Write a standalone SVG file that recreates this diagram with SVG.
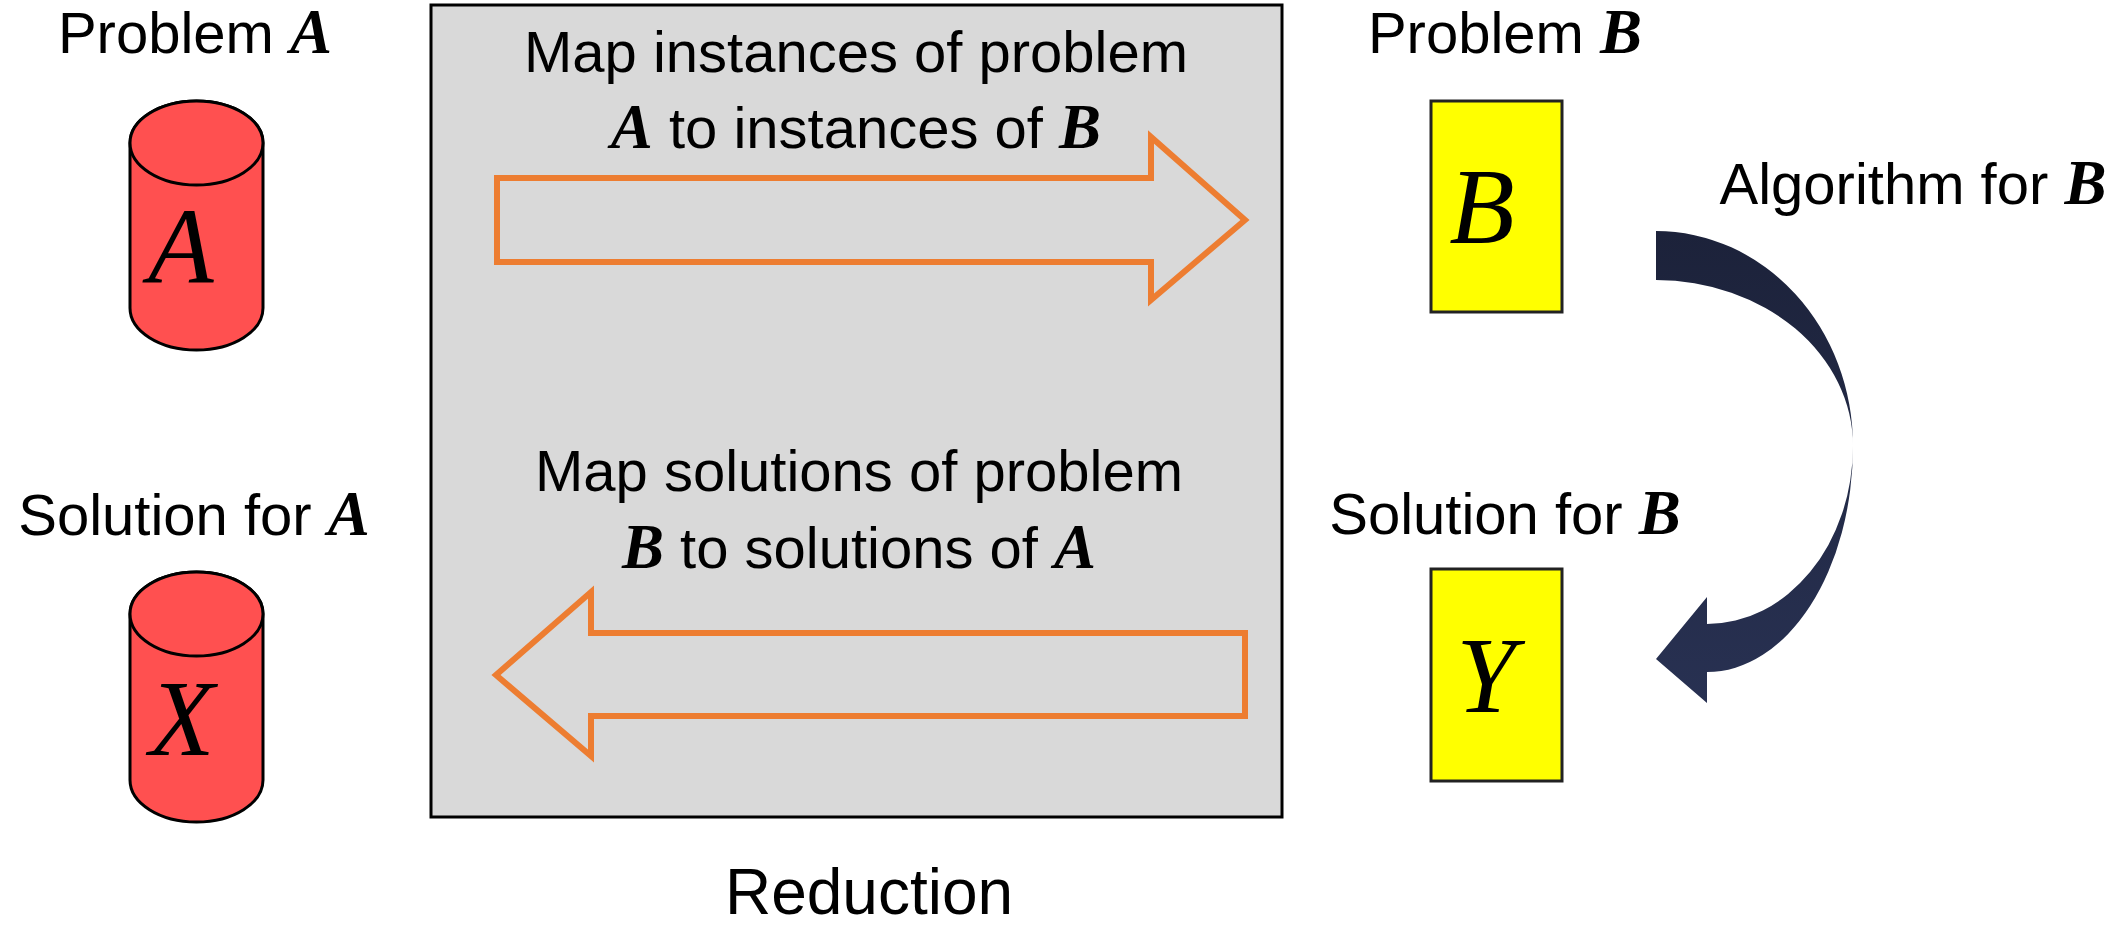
<svg xmlns="http://www.w3.org/2000/svg" width="2121" height="929" viewBox="0 0 2121 929">
<style>
.lbl{font-family:"Liberation Sans",Arial,sans-serif;font-size:58px;fill:#000;text-anchor:middle}
.m{font-family:"Liberation Serif","Times New Roman",serif;font-style:italic;font-weight:bold;font-size:63px}
.big{font-family:"Liberation Serif","Times New Roman",serif;font-style:italic;font-size:107px;fill:#000;text-anchor:middle}
.cyl{fill:#FF5050;stroke:#000;stroke-width:3}
.rect{fill:#FFFF00;stroke:#222;stroke-width:3}
.blk{fill:none;stroke:#ED7D31;stroke-width:6;stroke-linejoin:miter}
</style>
<defs>
<linearGradient id="navy" x1="0" y1="0" x2="0" y2="1">
<stop offset="0" stop-color="#1C223A"/>
<stop offset="1" stop-color="#283152"/>
</linearGradient>
</defs>
<rect width="2121" height="929" fill="#fff"/>

<g id="reduction">
<rect x="431" y="5" width="851" height="812" fill="#D9D9D9" stroke="#000" stroke-width="3"/>
<text class="lbl" x="856" y="72">Map instances of problem</text>
<text class="lbl" x="856" y="148"><tspan class="m">A</tspan> to instances of <tspan class="m">B</tspan></text>
<text class="lbl" x="859" y="491">Map solutions of problem</text>
<text class="lbl" x="859" y="568"><tspan class="m">B</tspan> to solutions of <tspan class="m">A</tspan></text>
<text class="lbl" x="869" y="914" style="font-size:64px">Reduction</text>
</g>

<g id="problemA">
<text class="lbl" x="195" y="53">Problem <tspan class="m">A</tspan></text>
<path class="cyl" d="M130 143 L130 308 A66.5 42 0 0 0 263 308 L263 143 A66.5 42 0 0 0 130 143 Z"/>
<ellipse class="cyl" cx="196.5" cy="143" rx="66.5" ry="42"/>
<text class="big" x="181" y="283">A</text>
</g>

<g id="solutionA">
<text class="lbl" x="194" y="535">Solution for <tspan class="m">A</tspan></text>
<path class="cyl" d="M130 614 L130 780 A66.5 42 0 0 0 263 780 L263 614 A66.5 42 0 0 0 130 614 Z"/>
<ellipse class="cyl" cx="196.5" cy="614" rx="66.5" ry="42"/>
<text class="big" x="182" y="755">X</text>
</g>

<g id="problemB">
<text class="lbl" x="1505" y="53">Problem <tspan class="m">B</tspan></text>
<rect class="rect" x="1431" y="101" width="131" height="211"/>
<text class="big" x="1482" y="243">B</text>
</g>

<g id="solutionB">
<text class="lbl" x="1505" y="534">Solution for <tspan class="m">B</tspan></text>
<rect class="rect" x="1431" y="569" width="131" height="212"/>
<text class="big" x="1486" y="712">Y</text>
</g>

<g id="algorithm">
<text class="lbl" x="1913" y="204">Algorithm for <tspan class="m">B</tspan></text>
</g>

<g id="connectors">
<path class="blk" d="M497 178 L1151 178 L1151 137 L1245 220 L1151 300 L1151 262 L497 262 Z"/>
<path class="blk" d="M1245 633 L591 633 L591 592 L496 675 L591 756 L591 716 L1245 716 Z"/>
<path fill="url(#navy)" d="M1656 231 A197 215 0 0 1 1853 446 A146 226 0 0 1 1707 672 L1707 703 L1656 659 L1707 597 L1707 624 A146 178 0 0 0 1853 446 A197 166 0 0 0 1656 280 Z"/>
</g>
</svg>
